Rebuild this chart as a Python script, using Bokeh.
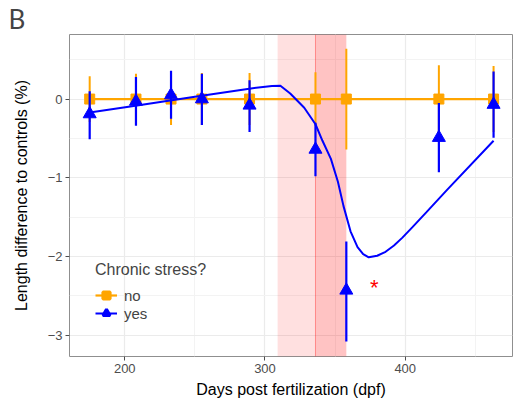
from bokeh.plotting import figure
from bokeh.models import (ColumnDataSource, Range1d, FixedTicker, Legend, LegendItem,
                          BoxAnnotation, Span)
from bokeh.embed import file_html
from bokeh.resources import INLINE
from bokeh.core.properties import value

# ---- data ----
days = [175, 208, 233, 255, 289, 336, 358, 424, 463]
no_mean = [0, 0, 0, 0, 0, 0, 0, 0, 0]
no_err = [0.29, 0.32, 0.33, 0.33, 0.33, 0.34, 0.64, 0.43, 0.42]
yes_mean = [-0.19, -0.03, 0.05, 0.00, -0.08, -0.64, -2.43, -0.49, -0.07]
yes_low = [-0.51, -0.34, -0.25, -0.33, -0.42, -0.98, -3.08, -0.93, -0.49]
yes_high = [0.10, 0.28, 0.36, 0.32, 0.24, -0.30, -1.81, -0.05, 0.35]

fit_days = [175, 210, 250, 290, 305, 311, 318, 328, 336, 341, 347, 352, 356, 361,
            366, 370, 374, 380, 386, 392, 398, 405, 415, 430, 463]
fit_vals = [-0.17, -0.08, 0.03, 0.135, 0.165, 0.17, 0.07, -0.11, -0.32, -0.53, -0.76,
            -1.05, -1.36, -1.68, -1.88, -1.97, -2.01, -1.99, -1.94, -1.86, -1.76, -1.63,
            -1.44, -1.15, -0.53]

stress_window = [309, 358]
acute_window = [336, 358]
star_x = [378]
star_y = [-2.39]
star_text = ["*"]

x_ticks = [200, 300, 400]
x_minor = [150, 250, 350, 450]
y_ticks = [-3, -2, -1, 0]
y_minor = [-2.5, -1.5, -0.5, 0.5]

FONT = "Liberation Sans"

no_src = ColumnDataSource(dict(x=days, y=no_mean,
                               lo=[m - e for m, e in zip(no_mean, no_err)],
                               hi=[m + e for m, e in zip(no_mean, no_err)]))
yes_src = ColumnDataSource(dict(x=days, y=yes_mean, lo=yes_low, hi=yes_high))
fit_src = ColumnDataSource(dict(x=fit_days, y=fit_vals))
star_src = ColumnDataSource(dict(x=star_x, y=star_y, t=star_text))

p = figure(width=513, height=416, output_backend="svg", toolbar_location=None,
           x_range=Range1d(160.6, 476.5), y_range=Range1d(-3.27, 0.82),
           min_border_left=69, min_border_right=1, min_border_top=0, min_border_bottom=60,
           background_fill_color="white", border_fill_color="white",
           title="B")

p.title.text_font = "Lato"
p.title.text_font_size = "26px"
p.title.text_font_style = "normal"
p.title.align = "left"
p.title.offset = -61
p.title.standoff = 0

p.outline_line_color = "#8F8F8F"
p.outline_line_width = 1

# grids
p.xaxis.ticker = FixedTicker(ticks=x_ticks, minor_ticks=x_minor)
p.yaxis.ticker = FixedTicker(ticks=y_ticks, minor_ticks=y_minor)
for g in (p.xgrid, p.ygrid):
    g.grid_line_color = "#EBEBEB"
    g.grid_line_width = 1.2
    g.minor_grid_line_color = "#F3F3F3"
    g.minor_grid_line_width = 1

# axes
for ax in (p.xaxis, p.yaxis):
    ax.axis_line_color = None
    ax.major_tick_line_color = "#4D4D4D"
    ax.major_tick_out = 4
    ax.major_tick_in = 0
    ax.minor_tick_line_color = None
    ax.major_label_text_color = "#4D4D4D"
    ax.major_label_text_font = FONT
    ax.major_label_text_font_size = "13px"
    ax.axis_label_text_font = FONT
    ax.axis_label_text_font_size = "16px"
    ax.axis_label_text_font_style = "normal"
    ax.axis_label_text_color = "black"
p.xaxis.axis_label = "Days post fertilization (dpf)"
p.yaxis.axis_label = "Length difference to controls (%)"
p.xaxis.major_label_standoff = 3
p.yaxis.major_label_standoff = 3
p.xaxis.axis_label_standoff = 5
p.yaxis.axis_label_standoff = 15

# shaded windows
p.add_layout(BoxAnnotation(left=stress_window[0], right=stress_window[1], fill_color="red",
                           fill_alpha=0.12, line_color=None, level="underlay"))
p.add_layout(BoxAnnotation(left=acute_window[0], right=acute_window[1], fill_color="red",
                           fill_alpha=0.13, line_color=None, level="underlay"))
p.add_layout(Span(location=acute_window[0], dimension="height", line_color="red",
                  line_alpha=0.35, line_width=1, level="underlay"))

ORANGE = "#FFA500"
BLUE = "#0000FF"

# no stress
line_no = p.line("x", "y", source=no_src, line_color=ORANGE, line_width=2.2)
p.segment("x", "lo", "x", "hi", source=no_src, line_color=ORANGE, line_width=2)
p.scatter("x", "y", source=no_src, marker="square", size=10, fill_color=ORANGE,
          line_color=ORANGE)
sq_leg = p.scatter("x", "y", source=no_src, marker="square", size=10, fill_color=ORANGE,
                   line_color=ORANGE, line_width=3, visible=False)

# stress
curve = p.line("x", "y", source=fit_src, line_color=BLUE, line_width=2)
p.segment("x", "lo", "x", "hi", source=yes_src, line_color=BLUE, line_width=2.2)
p.scatter("x", "y", source=yes_src, marker="triangle", size=13, fill_color=BLUE,
          line_color=BLUE)
tri_leg = p.scatter("x", "y", source=yes_src, marker="triangle", size=13, fill_color=BLUE,
                    line_color=BLUE, line_width=3, visible=False)

p.text("x", "y", text="t", source=star_src, text_color="red", text_font=value(FONT),
       text_font_size="22px", text_align="center", text_baseline="middle")

legend = Legend(items=[LegendItem(label="no", renderers=[line_no, sq_leg]),
                       LegendItem(label="yes", renderers=[curve, tri_leg])],
                location=(26, 34), title="Chronic stress?",
                title_text_font=FONT, title_text_font_size="16px",
                title_text_font_style="normal", title_standoff=7,
                label_text_font=FONT, label_text_font_size="15px",
                glyph_width=22, glyph_height=18, label_height=18, label_standoff=7,
                spacing=0, padding=0, margin=0, border_line_color=None,
                background_fill_alpha=0)
p.add_layout(legend)

open("out.html", "w").write(file_html(p, INLINE))
